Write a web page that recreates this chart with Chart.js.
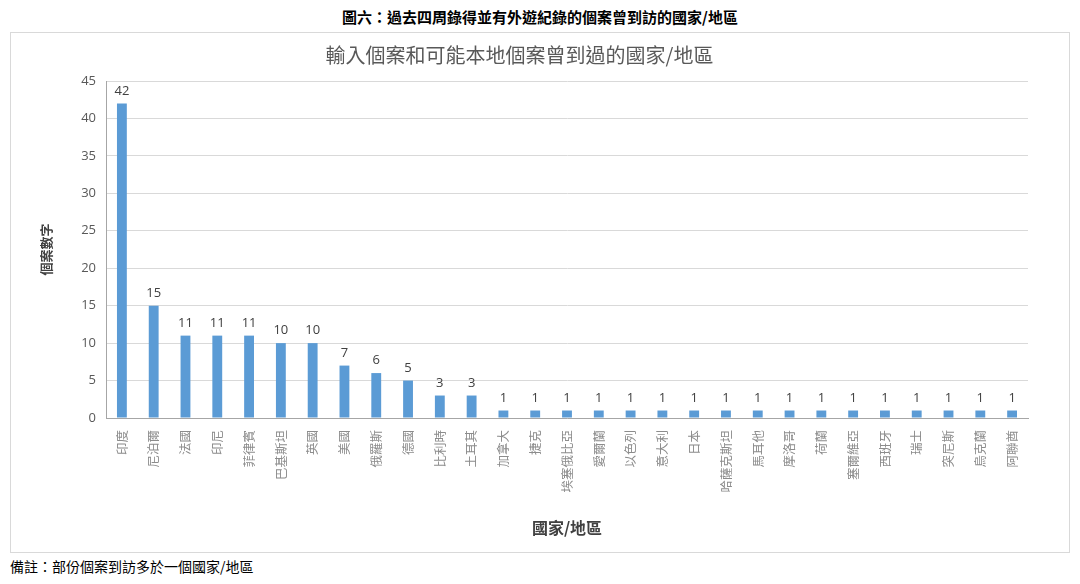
<!DOCTYPE html>
<html lang="zh-Hant">
<head>
    <meta charset="UTF-8">
    <title>圖六</title>
    <script src="https://cdn.jsdelivr.net/npm/chart.js"></script>
    <style>
        body {
            margin: 0;
            width: 1080px;
            height: 584px;
            position: relative;
            background: #fff;
            font-family: "Noto Sans CJK TC", sans-serif;
        }

        #heading {
            position: absolute;
            top: 6px;
            left: 0;
            width: 1080px;
            text-align: center;
            font-size: 15px;
            font-weight: bold;
            color: #000;
        }

        #box {
            position: absolute;
            left: 10px;
            top: 32px;
            width: 1058px;
            height: 519px;
            border: 1px solid #d9d9d9;
        }

        #note {
            position: absolute;
            left: 10px;
            top: 556px;
            font-size: 14px;
            color: #000;
        }
    </style>
</head>
<body>
    <div id="heading">圖六：過去四周錄得並有外遊紀錄的個案曾到訪的國家/地區</div>
    <div id="box">
        <canvas id="chart" width="1058" height="519"></canvas>
    </div>
    <div id="note">備註：部份個案到訪多於一個國家/地區</div>

    <script>
        const countries = ['印度', '尼泊爾', '法國', '印尼', '菲律賓', '巴基斯坦', '英國', '美國', '俄羅斯', '德國',
            '比利時', '土耳其', '加拿大', '捷克', '埃塞俄比亞', '愛爾蘭', '以色列', '意大利', '日本', '哈薩克斯坦',
            '馬耳他', '摩洛哥', '荷蘭', '塞爾維亞', '西班牙', '瑞士', '突尼斯', '烏克蘭', '阿聯酋'];
        const cases = [42, 15, 11, 11, 11, 10, 10, 7, 6, 5, 3, 3, 1, 1, 1, 1, 1, 1, 1, 1, 1, 1, 1, 1, 1, 1, 1, 1, 1];
        const yTicks = [0, 5, 10, 15, 20, 25, 30, 35, 40, 45];

        // 數值標籤
        const valueLabels = {
            id: 'valueLabels',
            afterDatasetsDraw(chart) {
                const ctx = chart.ctx;
                const meta = chart.getDatasetMeta(0);
                ctx.save();
                ctx.font = '13px "Open Sans", sans-serif';
                ctx.fillStyle = '#404040';
                ctx.textAlign = 'center';
                ctx.textBaseline = 'bottom';
                meta.data.forEach((bar, i) => {
                    ctx.fillText(cases[i], bar.x, bar.y - 6);
                });
                ctx.restore();
            }
        };

        new Chart(document.getElementById('chart'), {
            type: 'bar',
            data: {
                labels: countries,
                datasets: [{
                    data: cases,
                    backgroundColor: '#5b9bd5',
                    barPercentage: 0.62,
                    categoryPercentage: 0.5
                }]
            },
            options: {
                responsive: false,
                animation: false,
                layout: { padding: { top: 0, right: 41, bottom: 10, left: 0 } },
                plugins: {
                    legend: { display: false },
                    tooltip: { enabled: false },
                    title: {
                        display: true,
                        text: '輸入個案和可能本地個案曾到過的國家/地區',
                        color: '#595959',
                        font: { family: '"Noto Sans CJK TC"', size: 20, weight: 'normal' },
                        padding: { top: 10, bottom: 14 }
                    }
                },
                scales: {
                    x: {
                        grid: { display: false },
                        border: { color: '#a6a6a6' },
                        ticks: {
                            color: '#8c8c8c',
                            font: { family: '"Noto Sans CJK TC"', size: 12.5 },
                            maxRotation: 90,
                            minRotation: 90,
                            autoSkip: false,
                            padding: 4
                        },
                        title: {
                            display: true,
                            text: '國家/地區',
                            color: '#404040',
                            font: { family: '"Noto Sans CJK TC"', size: 16, weight: 'bold' },
                            padding: { top: 0, bottom: 4 }
                        },
                        afterFit(scale) { scale.height = 124; }
                    },
                    y: {
                        min: 0,
                        max: 45,
                        afterBuildTicks(scale) { scale.ticks = yTicks.map(v => ({ value: v })); },
                        grid: { color: '#d9d9d9', drawTicks: false },
                        border: { color: '#a6a6a6' },
                        ticks: {
                            color: '#595959',
                            font: { family: '"Open Sans"', size: 13 },
                            padding: 10
                        },
                        title: {
                            display: true,
                            text: '個案數字',
                            color: '#404040',
                            font: { family: '"Noto Sans CJK TC"', size: 13, weight: 'bold' },
                            padding: { top: 27, bottom: 0 }
                        },
                        afterFit(scale) { scale.width = 95; }
                    }
                }
            },
            plugins: [valueLabels]
        });
    </script>
</body>
</html>
